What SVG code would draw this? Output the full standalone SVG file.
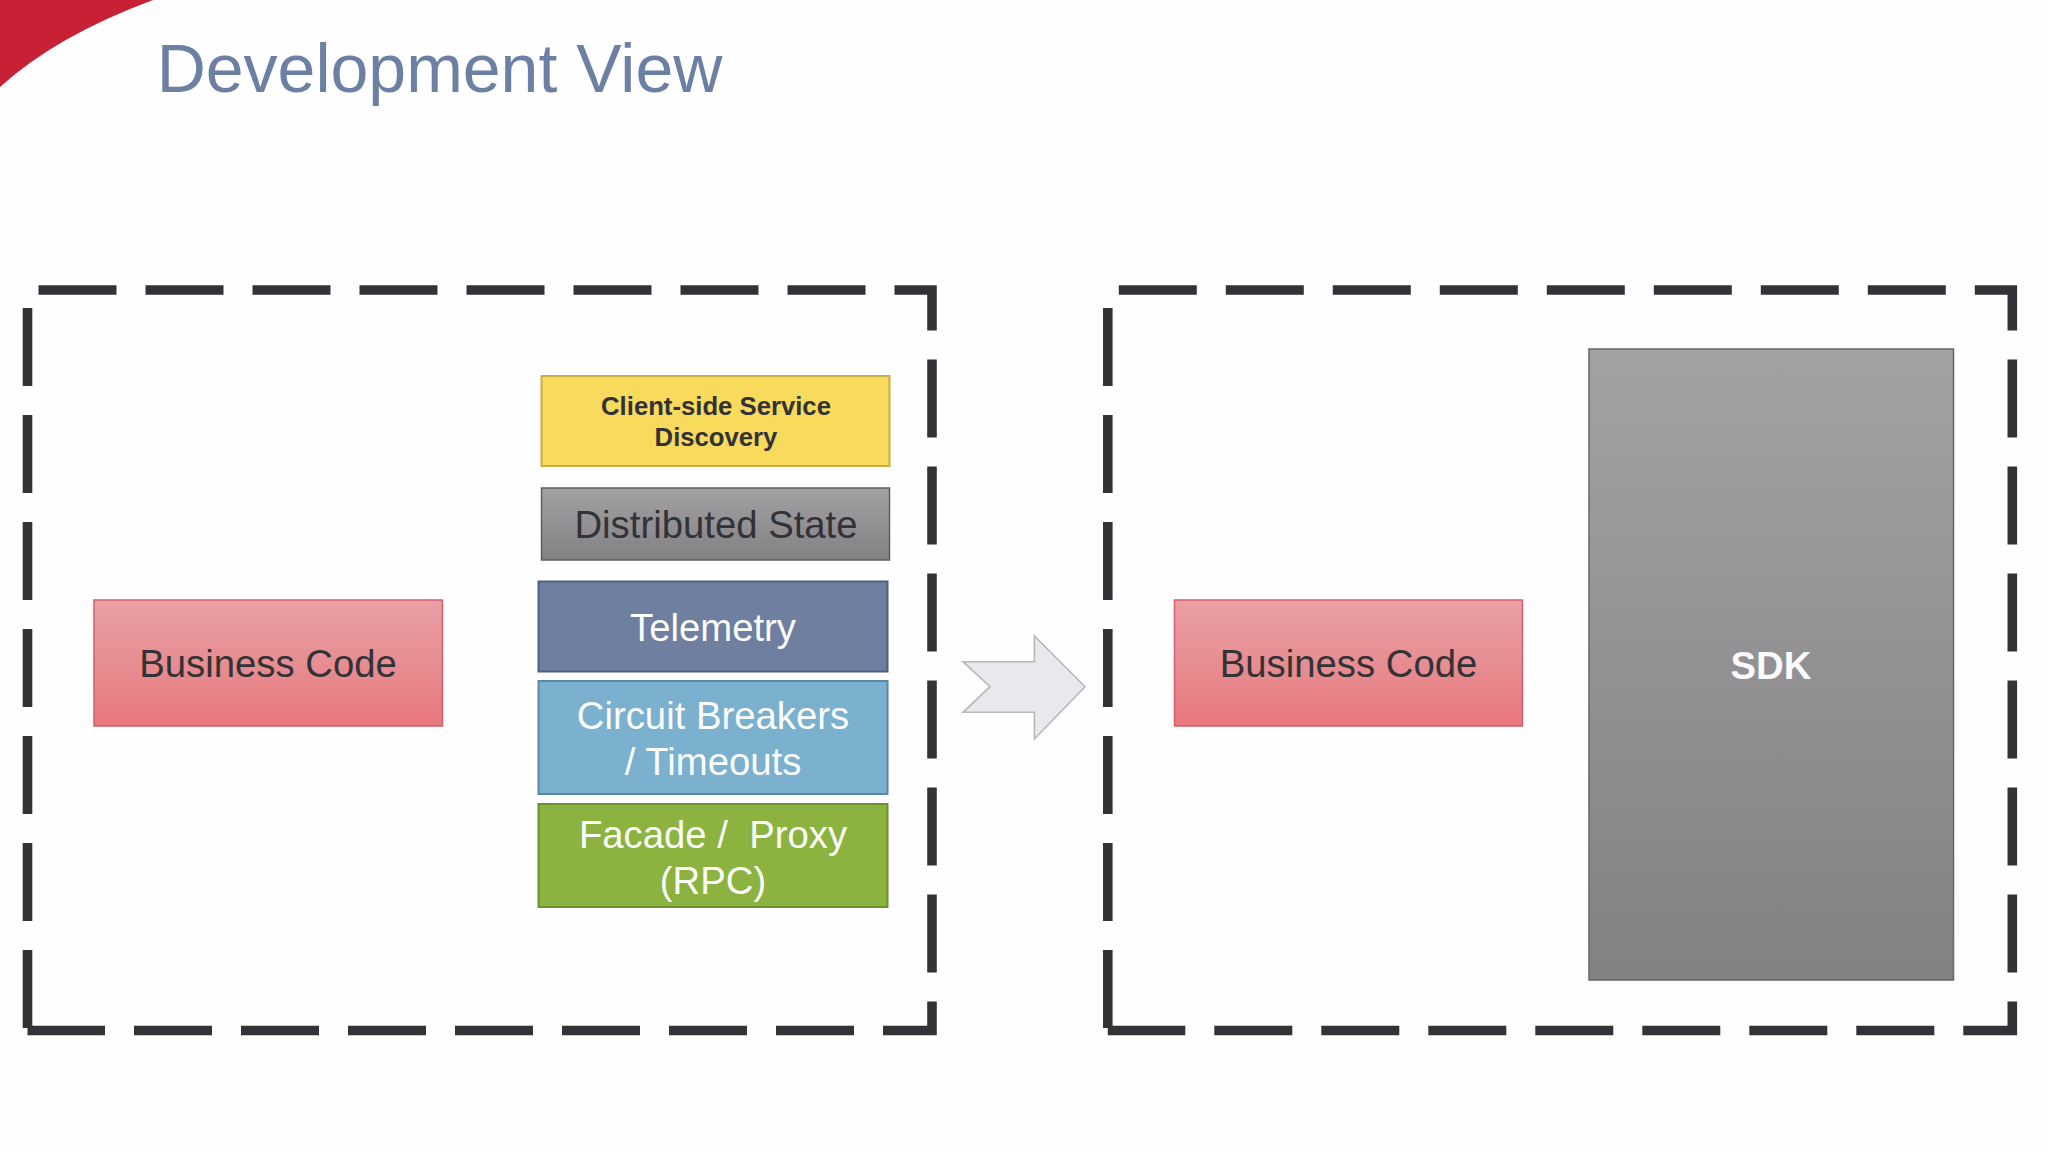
<svg xmlns="http://www.w3.org/2000/svg" width="2048" height="1152" viewBox="0 0 2048 1152">
<style>
text{font-family:"Liberation Sans",Arial,sans-serif;text-anchor:middle;font-size:38.3px;white-space:pre}
.dk{fill:#333236}.wh{fill:#fbfdfa}
.frame{fill:none;stroke:#333236;stroke-width:9.6;stroke-dasharray:78 29;stroke-linejoin:miter}
</style>
<defs>
<linearGradient id="pink" x1="0" y1="0" x2="0" y2="1"><stop offset="0" stop-color="#ec9fa5"/><stop offset="0.5" stop-color="#e68e92"/><stop offset="1" stop-color="#e9767d"/></linearGradient>
<linearGradient id="gray" x1="0" y1="0" x2="0" y2="1"><stop offset="0" stop-color="#a3a1a4"/><stop offset="1" stop-color="#818083"/></linearGradient>
</defs>
<rect width="2048" height="1152" fill="#fefefe"/>
<path id="corner" d="M0 0H153Q56 36 0 87Z" fill="#c82136"/>
<text id="title" x="439.5" y="92" style="font-size:68px" fill="#6b80a3">Development View</text>
<g id="frame-left"><path class="frame" d="M27.5 1028V290H932V1030.5H27.5"/></g>
<g id="frame-right"><path class="frame" d="M1107.8 1028V290H2012.3V1030.5H1107.8"/></g>
<g id="business-code-left"><rect x="94" y="600" width="348.5" height="126" fill="url(#pink)" stroke="#cf5f70" stroke-width="1.5"/><text class="dk" x="268" y="677">Business Code</text></g>
<g id="client-side"><rect x="541.5" y="376" width="348" height="90" fill="#f8da5c" stroke="#c9ad48" stroke-width="2"/><text class="dk" x="716" y="415" style="font-size:25.7px;font-weight:bold">Client-side Service</text><text class="dk" x="716" y="446" style="font-size:25.7px;font-weight:bold">Discovery</text></g>
<g id="distributed-state"><rect x="541.5" y="488" width="348" height="72" fill="url(#gray)" stroke="#5f5e63" stroke-width="1.5"/><text class="dk" x="716" y="538">Distributed State</text></g>
<g id="telemetry"><rect x="538.5" y="581.5" width="349" height="90" fill="#6e7f9f" stroke="#4e5f7f" stroke-width="2"/><text class="wh" x="713" y="641">Telemetry</text></g>
<g id="circuit-breakers"><rect x="538.5" y="681" width="349" height="113" fill="#7bb1cf" stroke="#5a87a6" stroke-width="2"/><text class="wh" x="713" y="729">Circuit Breakers</text><text class="wh" x="713" y="775">/ Timeouts</text></g>
<g id="facade"><rect x="538.5" y="804" width="349" height="103" fill="#8cb33f" stroke="#6e8f30" stroke-width="2"/><text class="wh" x="713" y="848">Facade /  Proxy</text><text class="wh" x="713" y="894">(RPC)</text></g>
<g id="business-code-right"><rect x="1174.5" y="600" width="348" height="126" fill="url(#pink)" stroke="#cf5f70" stroke-width="1.5"/><text class="dk" x="1348.5" y="677">Business Code</text></g>
<g id="sdk"><rect x="1589" y="349" width="364.5" height="631" fill="url(#gray)" stroke="#666569" stroke-width="1.5"/><text x="1771" y="679" style="font-weight:bold" fill="#fbfbfb">SDK</text></g>
<g id="connectors"><path d="M963 661.7H1034.4V636L1085 686.7L1034.4 739V712.3H963L990 686.7Z" fill="#e9e8ec" stroke="#b8b7bb" stroke-width="1.6"/></g>
</svg>
